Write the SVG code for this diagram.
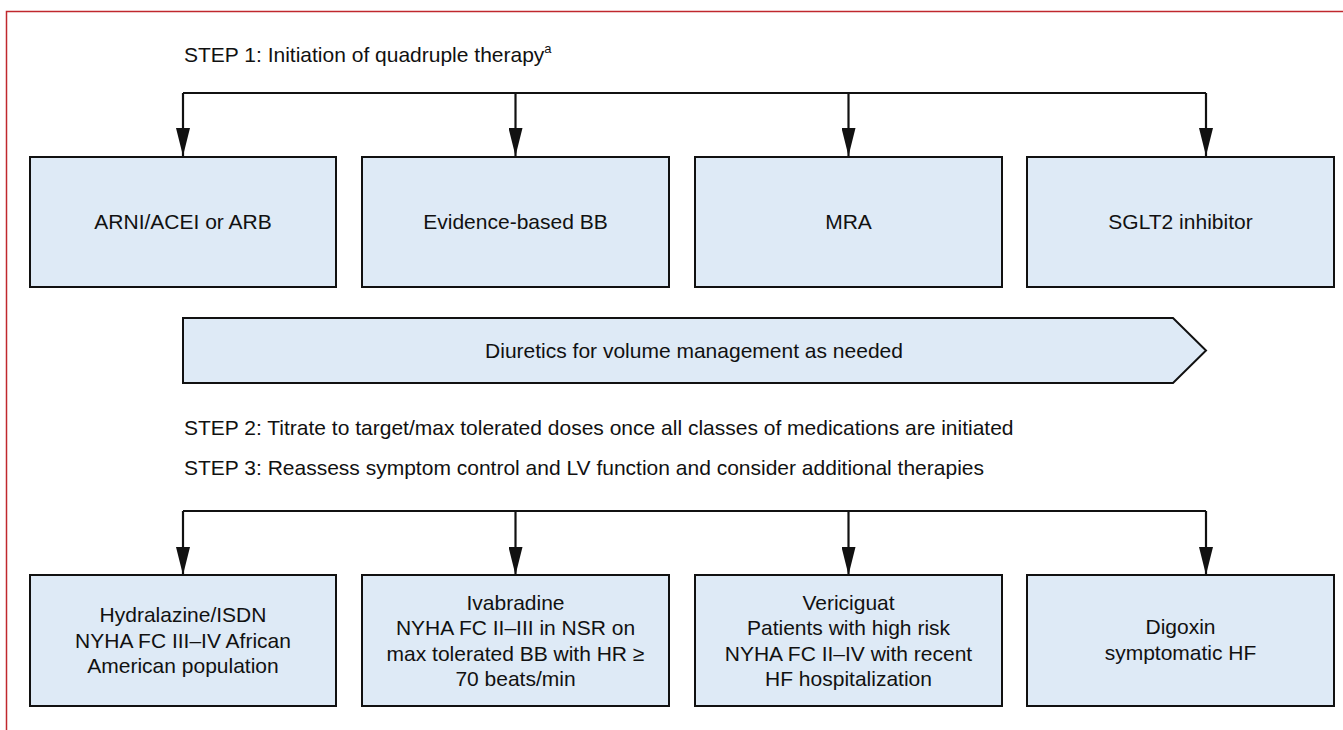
<svg xmlns="http://www.w3.org/2000/svg" width="1343" height="730" viewBox="0 0 1343 730">
<defs>
<style>
.t{font-family:"Liberation Sans",Arial,Helvetica,sans-serif;font-size:21px;fill:#111}
.c{text-anchor:middle}
.box{fill:#deeaf6;stroke:#111;stroke-width:2}
.ln{fill:none;stroke:#111;stroke-width:2.2}
</style>
<marker id="ah" viewBox="0 0 14 28" refX="14" refY="7" markerWidth="28" markerHeight="14" markerUnits="userSpaceOnUse" orient="auto">
<path d="M0,0 L28,7 L0,14 Z" fill="#111"/>
</marker>
<marker id="arr" viewBox="0 0 28 14" refX="28" refY="7" markerWidth="28" markerHeight="14" markerUnits="userSpaceOnUse" orient="auto">
<path d="M0,0 L28,7 L0,14 Z" fill="#111"/>
</marker>
</defs>
<rect width="1343" height="730" fill="#fff"/>
<path d="M6.5,730 V11.5 H1343" fill="none" stroke="#c0282d" stroke-width="1.5"/>

<text id="step1" class="t" x="184" y="62">STEP 1: Initiation of quadruple therapy<tspan font-size="13" dy="-9">a</tspan></text>
<text id="step2" class="t" x="184" y="435">STEP 2: Titrate to target/max tolerated doses once all classes of medications are initiated</text>
<text id="step3" class="t" x="184" y="475">STEP 3: Reassess symptom control and LV function and consider additional therapies</text>

<g id="connectors">
<path class="ln" d="M183,93 H1206"/>
<path class="ln" d="M183,93 V156" marker-end="url(#arr)"/>
<path class="ln" d="M515.5,93 V156" marker-end="url(#arr)"/>
<path class="ln" d="M848.5,93 V156" marker-end="url(#arr)"/>
<path class="ln" d="M1206,93 V156" marker-end="url(#arr)"/>
<path class="ln" d="M183,511 H1206"/>
<path class="ln" d="M183,511 V575" marker-end="url(#arr)"/>
<path class="ln" d="M515.5,511 V575" marker-end="url(#arr)"/>
<path class="ln" d="M848.5,511 V575" marker-end="url(#arr)"/>
<path class="ln" d="M1206,511 V575" marker-end="url(#arr)"/>
</g>

<g id="n_arni"><rect class="box" x="30" y="157" width="306" height="130"/><text class="t c" x="183" y="229">ARNI/ACEI or ARB</text></g>
<g id="n_bb"><rect class="box" x="362" y="157" width="307" height="130"/><text class="t c" x="515.5" y="229">Evidence-based BB</text></g>
<g id="n_mra"><rect class="box" x="695" y="157" width="307" height="130"/><text class="t c" x="848.5" y="229">MRA</text></g>
<g id="n_sglt2"><rect class="box" x="1027" y="157" width="307" height="130"/><text class="t c" x="1180.5" y="229">SGLT2 inhibitor</text></g>

<g id="n_diuretics"><polygon class="box" points="183,318 1173,318 1206,350.5 1173,383 183,383"/><text class="t c" x="694" y="358">Diuretics for volume management as needed</text></g>

<g id="n_hydralazine"><rect class="box" x="30" y="575" width="306" height="131"/>
<text class="t c" x="183" y="622">Hydralazine/ISDN</text>
<text class="t c" x="183" y="647.5">NYHA FC III–IV African</text>
<text class="t c" x="183" y="673">American population</text></g>
<g id="n_ivabradine"><rect class="box" x="362" y="575" width="307" height="131"/>
<text class="t c" x="515.5" y="609.5">Ivabradine</text>
<text class="t c" x="515.5" y="635">NYHA FC II–III in NSR on</text>
<text class="t c" x="515.5" y="660.5">max tolerated BB with HR ≥</text>
<text class="t c" x="515.5" y="686">70 beats/min</text></g>
<g id="n_vericiguat"><rect class="box" x="695" y="575" width="307" height="131"/>
<text class="t c" x="848.5" y="609.5">Vericiguat</text>
<text class="t c" x="848.5" y="635">Patients with high risk</text>
<text class="t c" x="848.5" y="660.5">NYHA FC II–IV with recent</text>
<text class="t c" x="848.5" y="686">HF hospitalization</text></g>
<g id="n_digoxin"><rect class="box" x="1027" y="575" width="307" height="131"/>
<text class="t c" x="1180.5" y="634">Digoxin</text>
<text class="t c" x="1180.5" y="660">symptomatic HF</text></g>
</svg>
